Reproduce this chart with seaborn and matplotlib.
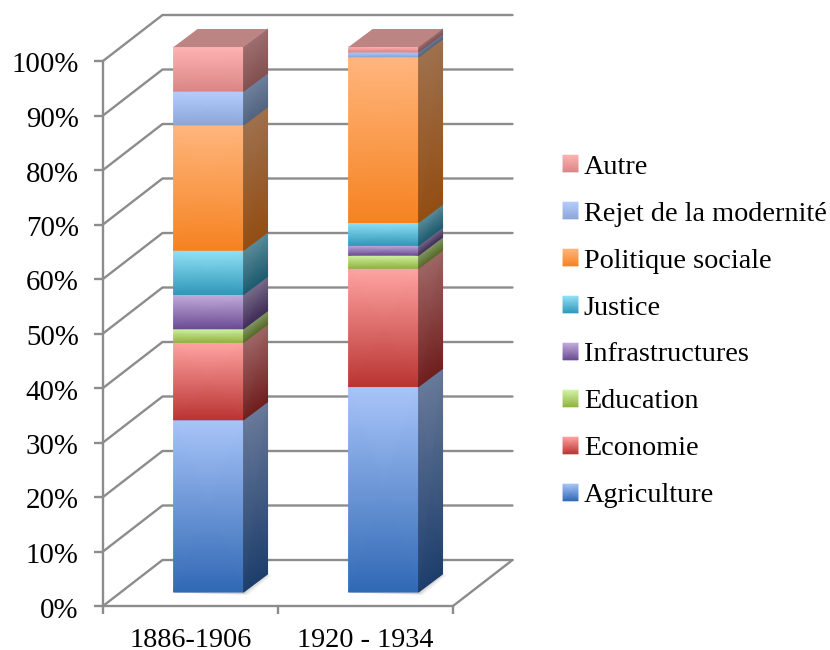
import numpy as np
import matplotlib
matplotlib.use("Agg")
import matplotlib.pyplot as plt
import seaborn as sns
from matplotlib.collections import QuadMesh
from matplotlib.colors import LinearSegmentedColormap, Normalize, to_rgb
from matplotlib.legend_handler import HandlerBase
from matplotlib.patches import Patch, Polygon
from matplotlib.transforms import ScaledTranslation

periods = ["1886-1906", "1920 - 1934"]
themes = ["Agriculture", "Economie", "Education", "Infrastructures",
          "Justice", "Politique sociale", "Rejet de la modernité", "Autre"]
shares_1886 = [31.6, 14.2, 2.5, 6.3, 8.1, 23.0, 6.2, 8.1]
shares_1920 = [37.7, 21.7, 2.4, 1.8, 4.2, 30.4, 0.9, 0.9]
light = ["#A9C5F9", "#FFA5A3", "#D3F5A7", "#C3AEDD", "#93E2F8", "#FFB67E", "#B3CEFF", "#FFB3B3"]
dark = ["#3068B4", "#B93331", "#8FB13E", "#6A4A93", "#2E97B8", "#F58220", "#8BA6D6", "#DA8585"]

W, H = 830, 650
sns.set_theme(style="white")
plt.rcParams["font.family"] = ["Liberation Serif", "DejaVu Serif"]

fig = plt.figure(figsize=(W / 100, H / 100), dpi=100)
ax = fig.add_axes([103 / W, 1 - 606 / H, 350 / W, 545 / H])

# depth of the fake 3d box, in data units
box_dx, box_dy = 0.34, 8.44
bar_z = 0.304
bar_dx, bar_dy = 0.137, 3.3
grid_col = "#8C8C8C"


def shade(col, f):
    return tuple(c * f for c in to_rgb(col))


def grad_mesh(corners, top_col, bottom_col, zorder):
    # corners: top-left, top-right, bottom-left, bottom-right
    c = np.array(corners).reshape(2, 2, 2)
    cmap = LinearSegmentedColormap.from_list("g", [bottom_col, top_col])
    ax.pcolormesh(c[..., 0], c[..., 1], np.array([[1, 1], [0, 0]]), shading="gouraud",
                  cmap=cmap, vmin=0, vmax=1, zorder=zorder, clip_on=False)


class GradHandler(HandlerBase):
    def create_artists(self, legend, orig, xd, yd, width, height, fontsize, trans):
        x0, x1 = -xd, -xd + width
        y0, y1 = -yd, -yd + height
        coords = np.array([[[x0, y1], [x1, y1]], [[x0, y0], [x1, y0]]])
        cmap = LinearSegmentedColormap.from_list("g", [orig.get_edgecolor(), orig.get_facecolor()])
        m = QuadMesh(coords, shading="gouraud", cmap=cmap, norm=Normalize(0, 1), transform=trans)
        m.set_array(np.array([[1.0, 1.0], [0.0, 0.0]]))
        return [m]


# back walls and floor
yticks = np.arange(0, 101, 10)
for y in yticks:
    ax.plot([-0.5, -0.5 + box_dx, 1.5 + box_dx], [y, y + box_dy, y + box_dy],
            color=grid_col, lw=1.7, clip_on=False, zorder=1, solid_capstyle="round")
ax.plot([1.5, 1.5 + box_dx], [0, box_dy], color=grid_col, lw=1.7, clip_on=False, zorder=1)

# bars
off_x, off_y = bar_z * box_dx, bar_z * box_dy
positions = np.arange(len(periods))
shares = np.array([shares_1886, shares_1920])
bottoms = np.zeros(2)
for i, theme in enumerate(themes):
    sns.barplot(x=positions, y=shares[:, i], bottom=bottoms, width=0.4, color=dark[i],
                saturation=1, errorbar=None, native_scale=True, ax=ax, zorder=2, clip_on=False)
    bottoms = bottoms + shares[:, i]

n_bars = len(periods)
for k, bar in enumerate(list(ax.patches)):
    i = k // n_bars
    x0, y0 = bar.get_x() + off_x, bar.get_y() + off_y
    w, h = bar.get_width(), bar.get_height()
    bar.set_x(x0)
    bar.set_y(y0)
    bar.set_linewidth(0)
    z = 3 + i * 0.01
    if i == 0:
        # soft shadow on the floor
        for grow, a in [(0.012, 0.10), (0.006, 0.16), (0.0, 0.2)]:
            ax.add_patch(Polygon([[x0 - grow, y0 - 0.1], [x0 + w + grow * 2, y0 - 0.3 - grow * 20],
                                  [x0 + w + bar_dx + grow * 2, y0 + bar_dy - grow * 20],
                                  [x0 + w, y0 + bar_dy]],
                                 fc="#777777", ec="none", alpha=a, zorder=1.5, clip_on=False))
    grad_mesh([(x0, y0 + h), (x0 + w, y0 + h), (x0, y0), (x0 + w, y0)], light[i], dark[i], z)
    grad_mesh([(x0 + w, y0 + h), (x0 + w + bar_dx, y0 + h + bar_dy),
               (x0 + w, y0), (x0 + w + bar_dx, y0 + bar_dy)],
              shade(light[i], 0.62), shade(dark[i], 0.6), z)
    if i == len(themes) - 1:
        ax.add_patch(Polygon([[x0, y0 + h], [x0 + w, y0 + h],
                              [x0 + w + bar_dx, y0 + h + bar_dy], [x0 + bar_dx, y0 + h + bar_dy]],
                             fc=shade(light[i], 0.74), ec="none", zorder=z, clip_on=False))

ax.set_xlim(-0.5, 1.5)
ax.set_ylim(0, 100)
ax.set_xticks(positions, periods)
ax.set_xticks([-0.5, 0.5, 1.5], minor=True)
ax.set_yticks(yticks, [f"{y}%" for y in yticks])
ax.patch.set_alpha(0)
sns.despine(ax=ax)
for s in ["left", "bottom"]:
    ax.spines[s].set_color(grid_col)
    ax.spines[s].set_linewidth(1.7)
ax.tick_params(axis="y", left=True, length=6.5, width=1.7, color=grid_col, pad=11, labelsize=20.8, labelcolor="black")
ax.tick_params(axis="x", which="major", bottom=False, pad=10, labelsize=20.3, labelcolor="black")
ax.tick_params(axis="x", which="minor", bottom=True, length=6, width=1.7, color=grid_col)

# y labels sit a little lower than their ticks
nudge = ScaledTranslation(0, -1.5 / 100, fig.dpi_scale_trans)
for label in ax.get_yticklabels():
    label.set_transform(label.get_transform() + nudge)

handles = [Patch(facecolor=light[i], edgecolor=dark[i], label=themes[i]) for i in range(len(themes))][::-1]
leg = ax.legend(handles=handles, loc="center left", bbox_to_anchor=(556 / W, 1 - 331.5 / H),
                bbox_transform=fig.transFigure, frameon=False, fontsize=20.3,
                handler_map={Patch: GradHandler()}, handlelength=0.53, handleheight=0.53,
                handletextpad=0.21, labelspacing=0.78, labelcolor="black", borderpad=0.25, borderaxespad=0)

fig.savefig("out.png", dpi=100)
